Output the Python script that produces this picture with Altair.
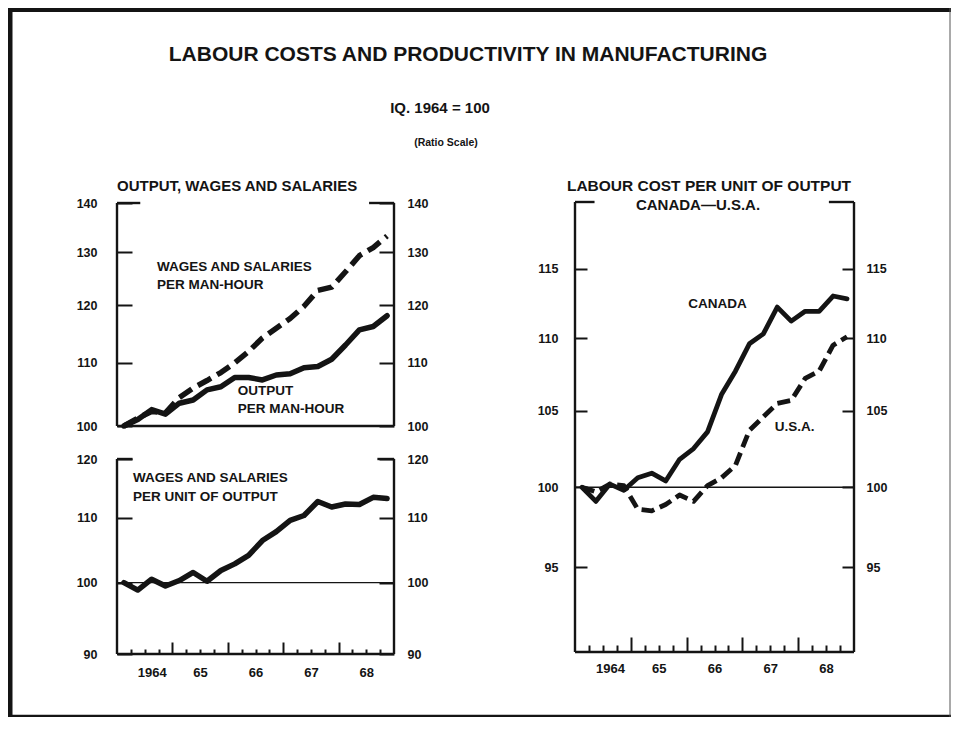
import altair as alt
import pandas as pd

# ---------------- data ----------------
quarters = [
    "1964Q1", "1964Q2", "1964Q3", "1964Q4",
    "1965Q1", "1965Q2", "1965Q3", "1965Q4",
    "1966Q1", "1966Q2", "1966Q3", "1966Q4",
    "1967Q1", "1967Q2", "1967Q3", "1967Q4",
    "1968Q1", "1968Q2", "1968Q3", "1968Q4",
]
output_per_manhour = [100.0, 101.0, 102.5, 101.8, 103.5, 104.0, 105.6, 106.1, 107.6, 107.6,
                      107.2, 108.0, 108.2, 109.2, 109.4, 110.6, 113.0, 115.6, 116.2, 118.1]
wages_per_manhour = [100.0, 101.2, 102.2, 102.0, 104.4, 105.9, 107.1, 108.4, 110.0, 111.9,
                     114.2, 115.9, 117.6, 119.8, 122.7, 123.3, 126.2, 129.3, 130.9, 133.2]
wages_per_unit = [100.0, 98.9, 100.5, 99.5, 100.3, 101.5, 100.2, 101.8, 102.8, 104.1,
                  106.4, 107.8, 109.6, 110.4, 112.7, 111.8, 112.3, 112.2, 113.4, 113.2]
canada_unit_cost = [100.0, 99.1, 100.2, 99.8, 100.6, 100.9, 100.4, 101.8, 102.5, 103.6,
                    106.1, 107.7, 109.6, 110.3, 112.2, 111.2, 111.9, 111.9, 113.0, 112.8]
usa_unit_cost = [100.0, 99.7, 100.2, 100.1, 98.6, 98.5, 98.9, 99.5, 99.1, 100.1,
                 100.6, 101.4, 103.7, 104.6, 105.5, 105.7, 107.2, 107.7, 109.5, 110.1]

year_labels = ["1964", "65", "66", "67", "68"]
years = [1964, 1965, 1966, 1967, 1968]
top_left_ticks = [100, 110, 120, 130, 140]
bottom_left_ticks = [90, 100, 110, 120]
right_ticks = [95, 100, 105, 110, 115]

# ---------------- frames ----------------
def qpos(q):
    return int(q[:4]) + (int(q[5]) - 0.5) / 4.0

df = pd.DataFrame({
    "t": [qpos(q) for q in quarters],
    "output": output_per_manhour,
    "wages": wages_per_manhour,
    "unit": wages_per_unit,
    "canada": canada_unit_cost,
    "usa": usa_unit_cost,
})

INK = "#141414"
FONT = "Liberation Sans"
W, H = 943, 709
X0, X1 = 1964, 1969

PA = dict(x0=109, x1=386, ybot=418, ytop=195, lo=100, hi=140)
PB = dict(x0=109, x1=386, ybot=646, ytop=451, lo=90, hi=120)
PC = dict(x0=567, x1=846, ybot=644, ytop=194, lo=90, hi=120)


def xscale(p):
    return alt.Scale(domain=[X0, X1], range=[p["x0"], p["x1"]], nice=False, zero=False)


def yscale(p):
    return alt.Scale(type="log", domain=[p["lo"], p["hi"]], range=[p["ybot"], p["ytop"]], nice=False)


def yaxis_left(p, values, tl, pad):
    return alt.Axis(orient="left", values=values, offset=-(p["x0"] + tl), tickSize=tl,
                    domain=False, grid=False, labelPadding=pad, title=None, format="d")


def yaxis_right(p, values, tl, pad):
    return alt.Axis(orient="right", values=values, offset=p["x1"] - tl - W, tickSize=tl,
                    domain=False, grid=False, labelPadding=pad, title=None, format="d",
                    labelAlign="left")


minor_vals = [y + f for y in years for f in (0.25, 0.5, 0.75)]
major_vals = years[1:]
label_vals = [y + 0.5 for y in years]
label_expr = ""
for y, lab in zip(years[:-1], year_labels[:-1]):
    label_expr += f"datum.value < {y + 1} ? '{lab}' : "
label_expr += f"'{year_labels[-1]}'"


def xaxis_minor(p, tl):
    return alt.Axis(orient="bottom", values=minor_vals, offset=p["ybot"] - tl - H, tickSize=tl,
                    labels=False, domain=False, grid=False, title=None)


def xaxis_major(p, tl):
    return alt.Axis(orient="bottom", values=major_vals, offset=p["ybot"] - tl - H, tickSize=tl,
                    labels=False, domain=False, grid=False, title=None)


def xaxis_labels(p, pad):
    return alt.Axis(orient="bottom", values=label_vals, offset=p["ybot"] - H, ticks=False,
                    tickSize=0, labelExpr=label_expr, domain=False, grid=False,
                    labelPadding=pad, title=None, labelFontSize=13,
                    labelOffset={"condition": {"test": "datum.value < 1965", "value": 7},
                                 "value": 0})


def box(p, stub_l, stub_r, xaxis=None):
    seg = pd.DataFrame({
        "x": [X0, X1, X0, X0, X1 - stub_r],
        "x2": [X0, X1, X1, X0 + stub_l, X1],
        "y": [p["lo"], p["lo"], p["lo"], p["hi"], p["hi"]],
        "y2": [p["hi"], p["hi"], p["lo"], p["hi"], p["hi"]],
    })
    return alt.Chart(seg).mark_rule(color=INK, strokeWidth=2.4).encode(
        x=alt.X("x:Q", scale=xscale(p), axis=xaxis),
        x2="x2:Q",
        y=alt.Y("y:Q", scale=yscale(p), axis=None),
        y2="y2:Q",
    )


def baseline(p, xaxis=None, yaxis=None):
    seg = pd.DataFrame({"x": [X0], "x2": [X1], "y": [100]})
    return alt.Chart(seg).mark_rule(color=INK, strokeWidth=1.4).encode(
        x=alt.X("x:Q", scale=xscale(p), axis=xaxis),
        x2="x2:Q",
        y=alt.Y("y:Q", scale=yscale(p), axis=yaxis),
    )


def line(p, field, width, dash=None, xaxis=None, yaxis=None):
    kw = dict(color=INK, strokeWidth=width, strokeJoin="round")
    if dash:
        kw.update(strokeDash=dash, strokeCap="butt")
    else:
        kw.update(strokeCap="round")
    return alt.Chart(df).mark_line(**kw).encode(
        x=alt.X("t:Q", scale=xscale(p), axis=xaxis),
        y=alt.Y(f"{field}:Q", scale=yscale(p), axis=yaxis),
    )


def notes(p, texts, xs, ys, size=13.5):
    nd = pd.DataFrame({"x": xs, "y": ys, "label": texts})
    return alt.Chart(nd).mark_text(align="left", baseline="middle", font=FONT,
                                   fontWeight="bold", fontSize=size, color=INK).encode(
        x=alt.X("x:Q", scale=xscale(p), axis=None),
        y=alt.Y("y:Q", scale=yscale(p), axis=None),
        text="label:N",
    )


def heading(text, px, py, size, align="center"):
    return alt.Chart(pd.DataFrame({"label": [text]})).mark_text(
        align=align, baseline="middle", font=FONT, fontWeight="bold", fontSize=size, color=INK
    ).encode(x=alt.value(px), y=alt.value(py), text="label:N")


def frame_edge(x, x2, y, y2, width, color=INK):
    return alt.Chart(pd.DataFrame({"k": [0]})).mark_rule(color=color, strokeWidth=width).encode(
        x=alt.value(x), x2=alt.value(x2), y=alt.value(y), y2=alt.value(y2))


# ---------------- panel A : output, wages and salaries ----------------
A_out = line(PA, "output", 5.5, yaxis=yaxis_left(PA, top_left_ticks, 15, 20))
A_wages = line(PA, "wages", 5.5, dash=[15, 7], yaxis=yaxis_right(PA, top_left_ticks, 15, 13))
A_box = box(PA, 0.42, 0.45)
A_notes = notes(PA, ["WAGES AND SALARIES", "PER MAN-HOUR", "OUTPUT", "PER MAN-HOUR"],
                [1964.72, 1964.72, 1966.18, 1966.18], [127.1, 123.7, 105.4, 102.6])

# ---------------- panel B : wages and salaries per unit of output ----------------
B_line = line(PB, "unit", 5.5, xaxis=xaxis_labels(PB, 12),
              yaxis=yaxis_left(PB, bottom_left_ticks, 15, 20))
B_base = baseline(PB, xaxis=xaxis_minor(PB, 5), yaxis=yaxis_right(PB, bottom_left_ticks, 15, 13))
B_box = box(PB, 0.28, 0.3, xaxis=xaxis_major(PB, 12))
B_notes = notes(PB, ["WAGES AND SALARIES", "PER UNIT OF OUTPUT"],
                [1964.29, 1964.29], [116.7, 113.5])

# ---------------- panel C : labour cost per unit of output ----------------
C_can = line(PC, "canada", 4.8, xaxis=xaxis_labels(PC, 10),
             yaxis=yaxis_left(PC, right_ticks, 12, 17))
C_usa = line(PC, "usa", 4.8, dash=[13, 6], xaxis=xaxis_minor(PC, 7),
             yaxis=yaxis_right(PC, right_ticks, 12, 12))
C_base = baseline(PC)
C_box = box(PC, 0.35, 0.45, xaxis=xaxis_major(PC, 15))
C_notes = notes(PC, ["CANADA", "U.S.A."], [1966.03, 1967.58], [112.4, 103.9])

# ---------------- headings ----------------
T1 = heading("LABOUR COSTS AND PRODUCTIVITY IN MANUFACTURING", 460, 47, 21)
T2 = heading("IQ. 1964 = 100", 432, 100, 15)
T3 = heading("(Ratio Scale)", 438, 135, 10.5)
T4 = heading("OUTPUT, WAGES AND SALARIES", 109, 178, 15, align="left")
T5 = heading("LABOUR COST PER UNIT OF OUTPUT", 701, 178, 15.5)
T6 = heading("CANADA\u2014U.S.A.", 690, 197, 15)

# ---------------- outer frame ----------------
F_left = frame_edge(2, 2, 0, H, 5)
F_top = frame_edge(0, W, 2, 2, 4)
F_bottom = frame_edge(0, W, H - 1, H - 1, 2.5)
F_right = frame_edge(W - 1, W - 1, 0, H, 1, color="#555555")

chart = alt.layer(
    F_left, F_top, F_bottom, F_right,
    A_box, A_out, A_wages, A_notes,
    B_box, B_base, B_line, B_notes,
    C_box, C_base, C_can, C_usa, C_notes,
    T1, T2, T3, T4, T5, T6,
).resolve_scale(
    x="independent", y="independent"
).resolve_axis(
    x="independent", y="independent"
).properties(
    width=W, height=H, autosize=alt.AutoSizeParams(type="none"), padding=0,
    background="white",
).configure_view(
    stroke=None
).configure_axis(
    grid=False, labelFont=FONT, labelFontWeight="bold", labelFontSize=12.5,
    labelColor=INK, tickColor=INK, tickWidth=2,
)

chart.save("out.html", embed_options={"renderer": "svg", "actions": False})
